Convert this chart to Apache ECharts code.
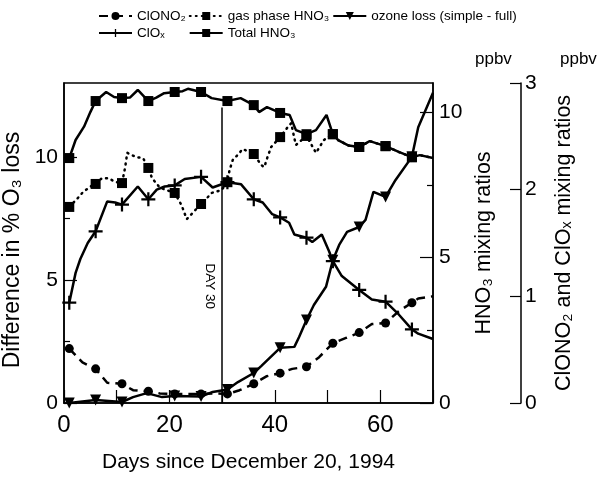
<!DOCTYPE html>
<html>
<head>
<meta charset="utf-8">
<script src="https://cdn.jsdelivr.net/npm/echarts@6/dist/echarts.min.js"></script>
<style>
html, body { margin: 0; padding: 0; background: #fff; }
#chart { width: 609px; height: 477px; }
</style>
</head>
<body>
<div id="chart"></div>
<script>
// days since Dec 20 1994 -- markers are drawn every 5 days (1, 6, 11, ...)
const totalDays  = [1, 2.2, 3.8, 5, 6, 8, 9.5, 11, 12.5, 14, 16, 17.5, 19, 21, 22.5, 23.5, 26, 28, 31, 33.5, 36, 37, 38.5, 41, 42.8, 44, 46, 47.8, 49.8, 51, 52, 54, 56, 58, 61, 63.5, 66, 67.5, 70];
const totalHNO3  = [8.42, 9.04, 9.5, 10.0, 10.38, 10.69, 10.52, 10.48, 10.5, 10.76, 10.38, 10.5, 10.65, 10.69, 10.72, 10.8, 10.69, 10.48, 10.38, 10.48, 10.24, 10.0, 10.17, 9.97, 9.9, 9.38, 9.24, 9.38, 9.9, 9.24, 9.04, 8.85, 8.8, 9.0, 8.83, 8.63, 8.45, 8.52, 8.42];

const gasDays = [1, 2.6, 3.6, 5.5, 6, 7.2, 8.4, 9.7, 11, 11.6, 12, 13.7, 15, 16, 16.7, 18.2, 21, 22.3, 23, 23.3, 26, 27.1, 28, 29.9, 31, 31.4, 32, 32.9, 33.9, 34.8, 36, 37.4, 38, 38.6, 39.3, 41, 42.3, 43.1, 43.7, 44, 46, 47.8, 49.3, 51, 52, 54, 56, 58, 61, 63.5, 66, 67.5, 70];
const gasHNO3 = [6.74, 7.04, 7.25, 7.5, 7.53, 7.73, 7.73, 7.6, 7.56, 8.1, 8.6, 8.45, 8.42, 8.08, 7.73, 7.4, 7.22, 6.8, 6.46, 6.32, 6.84, 7.04, 7.22, 7.32, 7.59, 8.0, 8.35, 8.52, 8.73, 8.66, 8.56, 8.18, 8.11, 8.45, 8.8, 9.14, 9.45, 9.62, 9.1, 8.87, 9.18, 8.6, 9.04, 9.24, 9.04, 8.85, 8.8, 9.0, 8.83, 8.63, 8.45, 8.52, 8.42];

const cloxDays = [1, 2.2, 3.1, 4.5, 6, 8.2, 9.7, 11, 14, 16, 17.6, 19.1, 21, 22.9, 26, 28.2, 31, 33.6, 36, 37.7, 39.5, 41, 42.7, 43.7, 46, 47.1, 48.9, 50.3, 51, 52.7, 56, 58.4, 61, 63.5, 66, 67.2, 70];
const clox     = [0.94, 1.22, 1.35, 1.5, 1.61, 1.89, 1.88, 1.86, 2.03, 1.91, 2.0, 2.03, 2.04, 2.1, 2.12, 2.02, 2.07, 2.05, 1.91, 1.88, 1.77, 1.74, 1.69, 1.58, 1.55, 1.51, 1.58, 1.42, 1.33, 1.19, 1.06, 0.97, 0.95, 0.83, 0.69, 0.65, 0.6];

const clono2Days = [1, 3.5, 6, 8.2, 11, 13.1, 16, 18.2, 21, 23.3, 26, 28.2, 31, 33.3, 36, 38.4, 41, 43.3, 46, 48.4, 51, 53.5, 56, 58.4, 61, 63.5, 66, 67.2, 70];
const clono2     = [0.51, 0.38, 0.32, 0.19, 0.18, 0.12, 0.11, 0.09, 0.085, 0.085, 0.085, 0.09, 0.085, 0.12, 0.18, 0.25, 0.28, 0.32, 0.34, 0.43, 0.56, 0.61, 0.66, 0.74, 0.75, 0.86, 0.94, 0.98, 1.0];

const ozoneDays = [1, 6, 11, 13.1, 15.7, 18.6, 21, 26, 28.2, 31, 33, 36, 37.4, 41, 43.7, 44.6, 46, 47.4, 49.7, 51, 52.2, 53.7, 56, 57.2, 58.7, 61, 62.9, 66, 67.2, 70];
const ozoneLoss = [0, 0.12, 0.04, 0.24, 0.4, 0.24, 0.28, 0.26, 0.45, 0.55, 0.85, 1.22, 1.5, 2.24, 2.28, 2.68, 3.37, 3.98, 4.72, 5.8, 6.42, 6.95, 7.15, 7.44, 8.58, 8.37, 9.06, 10.0, 11.2, 12.6];

const xLabels = [0, 20, 40, 60];
const leftLabels = [0, 5, 10];
const hno3Labels = [0, 5, 10];
const clLabels = [0, 1, 2, 3];

const FONT = 'Liberation Sans, Arial, Helvetica, sans-serif';
const pairs = (xs, ys) => xs.map((x, i) => [x, ys[i]]);
const markSize = s => (v) => (v[0] % 5 === 1 ? s : 0);

const triDown = 'path://M0,0 L10,0 L5,9 Z';
const plus = 'path://M4.2,0 H5.8 V10 H4.2 Z M0,4.2 H10 V5.8 H0 Z';

const chart = echarts.init(document.getElementById('chart'));

const axisBase = {
  type: 'value',
  splitLine: { show: false },
  axisLine: { show: true, lineStyle: { color: '#000', width: 1.5 } },
  axisLabel: { color: '#000', fontFamily: FONT, fontSize: 21 },
  nameTextStyle: { color: '#000', fontFamily: FONT, fontSize: 21.5 },
  nameLocation: 'middle'
};

const legendText = { fontFamily: FONT, fontSize: 13.5, color: '#000' };

const option = {
  backgroundColor: '#fff',
  animation: false,
  title: [
    { text: 'ppbv', left: 470, top: 46, textStyle: { fontFamily: FONT, fontSize: 17, fontWeight: 'normal', color: '#000' } },
    { text: 'ppbv', left: 555, top: 46, textStyle: { fontFamily: FONT, fontSize: 17, fontWeight: 'normal', color: '#000' } }
  ],
  legend: [
    {
      left: 98, top: 9, itemWidth: 33, itemHeight: 10, itemGap: 3, padding: 0,
      textStyle: legendText,
      data: ['ClONO₂', 'gas phase HNO₃', 'ozone loss (simple - full)']
    },
    {
      left: 98, top: 26, itemWidth: 33, itemHeight: 10, itemGap: 24, padding: 0,
      textStyle: legendText,
      data: ['ClOₓ', 'Total HNO₃']
    }
  ],
  grid: {
    left: 64, right: 176, top: 83, bottom: 74, outerBoundsMode: 'none',
    show: true, borderColor: '#000', borderWidth: 1.5, backgroundColor: 'transparent'
  },
  xAxis: {
    type: 'value', min: 0, max: 70, interval: 10,
    splitLine: { show: false },
    axisLine: { lineStyle: { color: '#000', width: 1.5 } },
    axisTick: { inside: true, length: 13, lineStyle: { color: '#000', width: 1.2 } },
    axisLabel: { customValues: xLabels, color: '#000', fontFamily: FONT, fontSize: 24, margin: 10 },
    name: 'Days since December 20, 1994', nameLocation: 'middle', nameGap: 49,
    nameTextStyle: { color: '#000', fontFamily: FONT, fontSize: 21 }
  },
  yAxis: [
    Object.assign({}, axisBase, {
      position: 'left', min: 0, max: 13,
      axisTick: { inside: true, length: 13, customValues: leftLabels, lineStyle: { color: '#000', width: 1.2 } },
      axisLabel: Object.assign({}, axisBase.axisLabel, { customValues: leftLabels, margin: 6 }),
      name: 'Difference in % O₃ loss', nameGap: 30,
      nameTextStyle: { color: '#000', fontFamily: FONT, fontSize: 23, padding: [0, 14, 0, 0] }
    }),
    Object.assign({}, axisBase, {
      position: 'right', min: 0, max: 11,
      axisTick: { inside: true, length: 13, customValues: hno3Labels, lineStyle: { color: '#000', width: 1.2 } },
      axisLabel: Object.assign({}, axisBase.axisLabel, { customValues: hno3Labels, margin: 6 }),
      name: 'HNO₃ mixing ratios', nameGap: 35
    }),
    Object.assign({}, axisBase, {
      position: 'right', offset: 88, min: 0, max: 3,
      axisTick: { inside: true, length: 11, customValues: clLabels, lineStyle: { color: '#000', width: 1.2 } },
      axisLabel: Object.assign({}, axisBase.axisLabel, { customValues: clLabels, margin: 4 }),
      name: 'ClONO₂ and ClOₓ mixing ratios', nameGap: 32
    }),
    // half-step ticks on the left and middle axes
    {
      type: 'value', position: 'left', min: 0, max: 13, splitLine: { show: false },
      axisLine: { show: false }, axisLabel: { show: false },
      axisTick: { inside: true, length: 6, customValues: [2.5, 7.5], lineStyle: { color: '#000', width: 1.2 } }
    },
    {
      type: 'value', position: 'right', min: 0, max: 11, splitLine: { show: false },
      axisLine: { show: false }, axisLabel: { show: false },
      axisTick: { inside: true, length: 6, customValues: [2.5, 7.5], lineStyle: { color: '#000', width: 1.2 } }
    }
  ],
  series: [
    {
      name: 'ClONO₂', type: 'line', yAxisIndex: 2,
      data: pairs(clono2Days, clono2),
      symbol: 'circle', symbolSize: markSize(9),
      lineStyle: { color: '#000', width: 2.5, type: [9, 6] },
      itemStyle: { color: '#000' }
    },
    {
      name: 'gas phase HNO₃', type: 'line', yAxisIndex: 1,
      data: pairs(gasDays, gasHNO3),
      symbol: 'rect', symbolSize: markSize(10),
      lineStyle: { color: '#000', width: 2.5, type: [1, 5], cap: 'round' },
      itemStyle: { color: '#000' }
    },
    {
      name: 'ozone loss (simple - full)', type: 'line', yAxisIndex: 0,
      data: pairs(ozoneDays, ozoneLoss),
      symbol: triDown, symbolSize: markSize(11),
      lineStyle: { color: '#000', width: 2.5 },
      itemStyle: { color: '#000' },
      markLine: {
        silent: true, symbol: 'none',
        lineStyle: { color: '#000', width: 1.5, type: 'solid' },
        label: {
          show: true, formatter: 'DAY 30', position: 'insideMiddleBottom',
          fontFamily: FONT, fontSize: 13.5, color: '#000', padding: [0, 0, 0, 62]
        },
        data: [[{ coord: [30, 12] }, { coord: [30, 0] }]]
      }
    },
    {
      name: 'ClOₓ', type: 'line', yAxisIndex: 2,
      data: pairs(cloxDays, clox),
      symbol: plus, symbolSize: markSize(14),
      lineStyle: { color: '#000', width: 2.5 },
      itemStyle: { color: '#000' }
    },
    {
      name: 'Total HNO₃', type: 'line', yAxisIndex: 1,
      data: pairs(totalDays, totalHNO3),
      symbol: 'rect', symbolSize: markSize(10),
      lineStyle: { color: '#000', width: 2.5 },
      itemStyle: { color: '#000' }
    }
  ]
};

chart.setOption(option);
</script>
</body>
</html>
